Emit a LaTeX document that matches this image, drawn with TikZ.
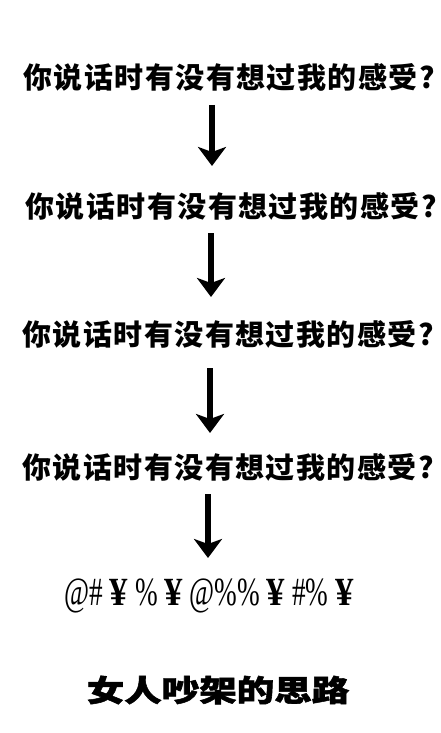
\documentclass[tikz,border=0pt]{standalone}
\usepackage{fontspec}
\setmainfont{Liberation Serif}
\newfontfamily\cjk{Noto Sans CJK SC}
\newfontfamily\cjkh{Noto Sans CJK SC}[BoldFeatures={FakeBold=1.6}]
\usetikzlibrary{arrows.meta}
\newcommand{\yenb}{\scalebox{1.35}[1]{\textbf{¥}}}
\begin{document}
\begin{tikzpicture}[x=1pt,y=-1pt,
  q/.style={inner sep=0pt,font=\cjk\bfseries\fontsize{29}{29}\selectfont\addfontfeatures{LetterSpace=5}},
  arr/.style={line width=6pt,-{Stealth[length=19pt,width=28pt,inset=5pt]}}]
\useasboundingbox (0,0) rectangle (440,733);
\node[q] (t1) at (229,77) {你说话时有没有想过我的感受?};
\node[q] (t2) at (231,206) {你说话时有没有想过我的感受?};
\node[q] (t3) at (228,334) {你说话时有没有想过我的感受?};
\node[q] (t4) at (228,467) {你说话时有没有想过我的感受?};
\node[inner sep=0pt,font=\fontsize{40}{40}\selectfont] (sy) at (209,596) {\scalebox{0.68}[1]{@\# \yenb{} \% \yenb{} @\%\% \yenb{} \#\% \yenb}};
\node[inner sep=0pt,font=\cjkh\bfseries\fontsize{30}{30}\selectfont] (ti) at (218,690) {\scalebox{1.25}[1]{女人吵架的思路}};
\coordinate (a1s) at (212,105); \coordinate (a1e) at (212,166);
\coordinate (a2s) at (211,233); \coordinate (a2e) at (211,297);
\coordinate (a3s) at (210,368); \coordinate (a3e) at (210,433);
\coordinate (a4s) at (208,494); \coordinate (a4e) at (208,558);
\draw[arr] (a1s) -- (a1e);
\draw[arr] (a2s) -- (a2e);
\draw[arr] (a3s) -- (a3e);
\draw[arr] (a4s) -- (a4e);
\end{tikzpicture}
\end{document}
